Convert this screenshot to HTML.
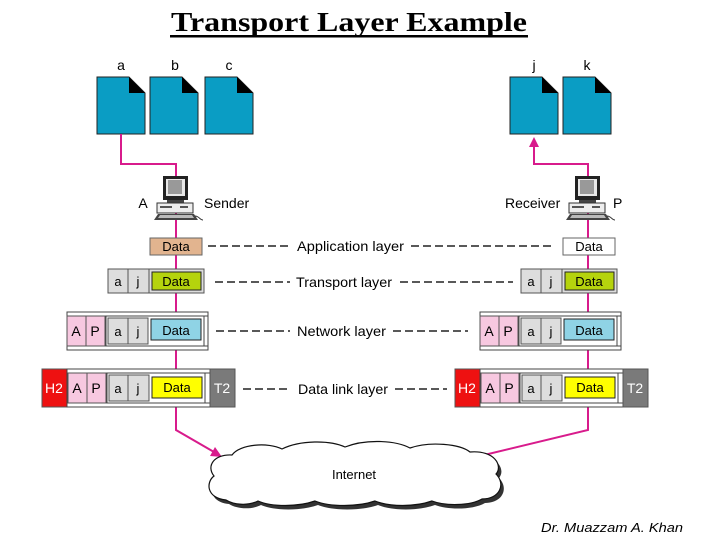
<!DOCTYPE html>
<html><head><meta charset="utf-8"><style>
html,body{margin:0;padding:0;background:#fff;}
svg{display:block;}
text{font-family:"Liberation Sans",sans-serif;}
</style></head><body>
<svg width="720" height="540" viewBox="0 0 720 540" xmlns="http://www.w3.org/2000/svg">
<defs>
<g id="doc">
<path d="M0,0 H32 L48,16 V57 H0 Z" fill="#0a9dc4" stroke="#222" stroke-width="1"/>
<path d="M32,0 L48,16 H32 Z" fill="#000"/>
</g>
<g id="pc">
<rect x="9" y="0" width="25" height="24" fill="#222"/>
<rect x="12" y="3" width="19" height="17" fill="#e8e8e8"/>
<rect x="14" y="4" width="14" height="14" fill="#999"/>
<rect x="13" y="24" width="17" height="3" fill="#444"/>
<rect x="3" y="27" width="36" height="10" fill="#eee" stroke="#333"/>
<rect x="6" y="30" width="12" height="2" fill="#555"/>
<rect x="26" y="30" width="8" height="2" fill="#555"/>
<path d="M0,44 L4,38 H40 L44,44 Z" fill="#444"/>
<path d="M4,42 L6,39 H38 L40,42 Z" fill="#bbb"/>
<path d="M41,40 C45,40 46,44 49,44" stroke="#333" fill="none"/>
</g>
<g id="tr">
<rect x="108" y="269" width="96" height="24" fill="#ddd" stroke="#555"/>
<line x1="128" y1="269" x2="128" y2="293" stroke="#555"/>
<line x1="149" y1="269" x2="149" y2="293" stroke="#555"/>
<rect x="152" y="272" width="49" height="18" fill="#b5d30d" stroke="#222"/>
<text x="118" y="286" font-size="13" text-anchor="middle">a</text>
<text x="138" y="286" font-size="13" text-anchor="middle">j</text>
<text x="176" y="286" font-size="13" text-anchor="middle">Data</text>
</g>
<g id="nw">
<rect x="67" y="312" width="141" height="38" fill="#fff" stroke="#444"/>
<rect x="67" y="316" width="141" height="30" fill="#fff" stroke="#444"/>
<rect x="67" y="316" width="19" height="30" fill="#f7c8e0" stroke="#555"/>
<rect x="86" y="316" width="19" height="30" fill="#f7c8e0" stroke="#555"/>
<rect x="106" y="316" width="98" height="30" fill="#fff" stroke="#444"/>
<rect x="108" y="318" width="40" height="26" fill="#ddd" stroke="#555"/>
<line x1="128" y1="318" x2="128" y2="344" stroke="#555"/>
<rect x="151" y="319" width="50" height="21" fill="#8fd3e5" stroke="#222"/>
<text x="76" y="336" font-size="14" text-anchor="middle">A</text>
<text x="95" y="336" font-size="14" text-anchor="middle">P</text>
<text x="118" y="336" font-size="13" text-anchor="middle">a</text>
<text x="138" y="336" font-size="13" text-anchor="middle">j</text>
<text x="176" y="335" font-size="13" text-anchor="middle">Data</text>
</g>
<g id="dl">
<rect x="42" y="369" width="25" height="38" fill="#ee1111" stroke="#555"/>
<rect x="67" y="369" width="143" height="38" fill="#fff" stroke="#444"/>
<rect x="67" y="373" width="143" height="30" fill="#fff" stroke="#444"/>
<rect x="68" y="373" width="19" height="30" fill="#f7c8e0" stroke="#555"/>
<rect x="87" y="373" width="19" height="30" fill="#f7c8e0" stroke="#555"/>
<rect x="107" y="373" width="98" height="30" fill="#fff" stroke="#444"/>
<rect x="109" y="375" width="40" height="26" fill="#ddd" stroke="#555"/>
<line x1="128" y1="375" x2="128" y2="401" stroke="#555"/>
<rect x="152" y="377" width="50" height="21" fill="#ffff00" stroke="#222"/>
<rect x="210" y="369" width="25" height="38" fill="#7a7a7a" stroke="#555"/>
<text x="54" y="393" font-size="14" fill="#fff" text-anchor="middle">H2</text>
<text x="77" y="393" font-size="14" text-anchor="middle">A</text>
<text x="96" y="393" font-size="14" text-anchor="middle">P</text>
<text x="118" y="393" font-size="13" text-anchor="middle">a</text>
<text x="138" y="393" font-size="13" text-anchor="middle">j</text>
<text x="177" y="392" font-size="13" text-anchor="middle">Data</text>
<text x="222" y="393" font-size="14" fill="#fff" text-anchor="middle">T2</text>
</g>
<path id="cloud" d="M226,500 C206,498 206,482 214,476 C206,466 214,454 232,455 C240,444 268,442 282,449 C300,440 330,440 345,447 C365,439 395,440 410,448 C430,441 460,444 470,452 C495,450 503,466 496,474 C506,484 500,499 482,499 C470,506 445,506 432,501 C415,507 390,507 375,501 C358,507 330,507 315,501 C298,507 272,507 258,501 C248,506 234,505 226,500 Z"/>
</defs>

<text x="349" y="31" font-weight="bold" font-size="27" text-anchor="middle" textLength="356" lengthAdjust="spacingAndGlyphs" style="font-family:'Liberation Serif',serif">Transport Layer Example</text>
<rect x="170" y="35" width="358" height="2.5" fill="#000"/>

<g font-size="14" text-anchor="middle">
<text x="121" y="70">a</text><text x="175" y="70">b</text><text x="229" y="70">c</text>
<text x="534" y="70">j</text><text x="587" y="70">k</text>
</g>
<use href="#doc" x="97" y="77"/><use href="#doc" x="150" y="77"/><use href="#doc" x="205" y="77"/>
<use href="#doc" x="510" y="77"/><use href="#doc" x="563" y="77"/>

<g stroke="#d81b8c" stroke-width="2" fill="none">
<path d="M121,134 V164 H176 V430 L214,452"/>
<path d="M534,143 V164 H588 V430 L480,456"/>
</g>
<path d="M534,137 L529,147 L539,147 Z" fill="#d81b8c"/>
<path d="M222,457 L210,456 L215,447 Z" fill="#d81b8c"/>

<use href="#pc" x="154" y="176"/>
<use href="#pc" x="566" y="176"/>
<text x="143" y="208" font-size="14" text-anchor="middle">A</text>
<text x="204" y="208" font-size="14">Sender</text>
<text x="505" y="208" font-size="14">Receiver</text>
<text x="613" y="208" font-size="14">P</text>

<rect x="150" y="238" width="52" height="17" fill="#e2b48f" stroke="#666"/>
<text x="176" y="251" font-size="13" text-anchor="middle">Data</text>
<rect x="563" y="238" width="52" height="17" fill="#fff" stroke="#666"/>
<text x="589" y="251" font-size="13" text-anchor="middle">Data</text>

<use href="#tr"/><use href="#tr" x="413"/>
<use href="#nw"/><use href="#nw" x="413"/>
<use href="#dl"/><use href="#dl" x="413"/>

<g stroke="#222" stroke-width="1.6" stroke-dasharray="8,4">
<line x1="208" y1="246" x2="292" y2="246"/><line x1="411" y1="246" x2="552" y2="246"/>
<line x1="215" y1="282" x2="290" y2="282"/><line x1="400" y1="282" x2="513" y2="282"/>
<line x1="216" y1="331" x2="290" y2="331"/><line x1="393" y1="331" x2="468" y2="331"/>
<line x1="243" y1="389" x2="290" y2="389"/><line x1="395" y1="389" x2="447" y2="389"/>
</g>
<g font-size="14">
<text x="297" y="251" textLength="107" lengthAdjust="spacingAndGlyphs">Application layer</text>
<text x="296" y="287" textLength="96" lengthAdjust="spacingAndGlyphs">Transport layer</text>
<text x="297" y="336" textLength="89" lengthAdjust="spacingAndGlyphs">Network layer</text>
<text x="298" y="394" textLength="90" lengthAdjust="spacingAndGlyphs">Data link layer</text>
</g>

<use href="#cloud" fill="#333" x="3" y="4"/>
<use href="#cloud" fill="#fff" stroke="#111" stroke-width="1.2"/>
<text x="354" y="479" font-size="13" text-anchor="middle">Internet</text>

<text x="541" y="532" font-size="13" font-style="italic" textLength="142" lengthAdjust="spacingAndGlyphs">Dr. Muazzam A. Khan</text>
</svg>
</body></html>
